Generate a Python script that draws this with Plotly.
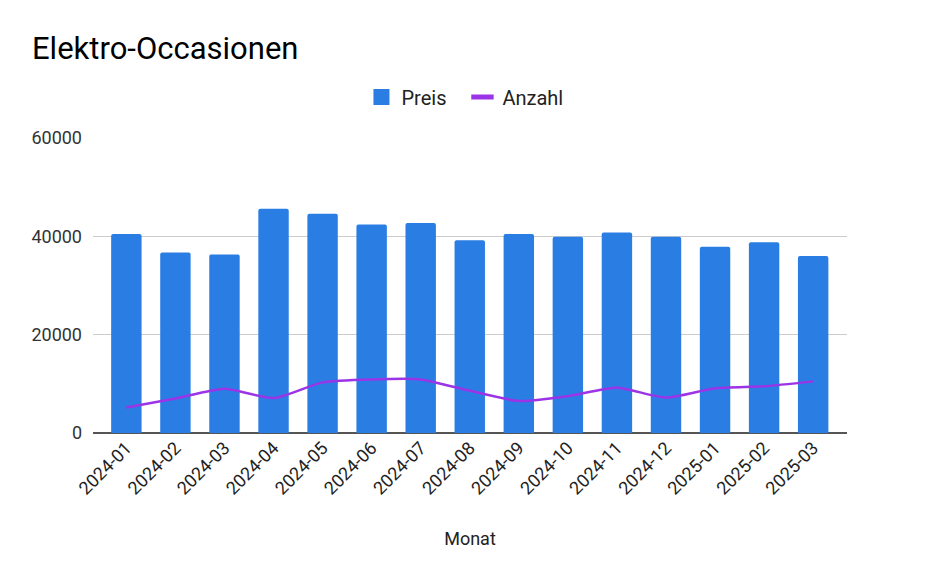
import plotly.graph_objects as go

monate = ["2024-01", "2024-02", "2024-03", "2024-04", "2024-05", "2024-06", "2024-07",
          "2024-08", "2024-09", "2024-10", "2024-11", "2024-12", "2025-01", "2025-02", "2025-03"]
preis = [40500, 36700, 36300, 45600, 44600, 42400, 42700, 39200, 40500, 39900, 40800, 39900, 37900, 38800, 36000]
anzahl = [5200, 7000, 9000, 7100, 10300, 10900, 10900, 8600, 6500, 7500, 9200, 7200, 9100, 9500, 10500]
y_ticks = [0, 20000, 40000, 60000]

BLUE = "#2a7de3"
PURPLE = "#9b34e6"

fig = go.Figure()
fig.add_trace(go.Bar(
    x=monate, y=preis, name="Preis", showlegend=False, legendgroup="p",
    marker=dict(color=BLUE, cornerradius=2, line=dict(width=0)),
))
fig.add_trace(go.Scatter(
    x=monate, y=anzahl, name="Anzahl", mode="lines", showlegend=False, legendgroup="a",
    line=dict(color=PURPLE, width=2.5, shape="spline", smoothing=0.6),
))
# legend entries (larger glyphs like the reference)
fig.add_trace(go.Scatter(
    x=[None], y=[None], name="Preis", mode="markers", legendgroup="p",
    marker=dict(symbol="square", size=17, color=BLUE),
))
fig.add_trace(go.Scatter(
    x=[None], y=[None], name="Anzahl", mode="markers", legendgroup="a",
    marker=dict(symbol="line-ew-open", size=18, color=PURPLE, line=dict(width=5, color=PURPLE)),
))

fig.update_layout(
    width=940, height=581,
    paper_bgcolor="white", plot_bgcolor="white",
    font=dict(family="Roboto, Arial, sans-serif", color="#222"),
    title=dict(text="Elektro-Occasionen", x=32/940, xanchor="left", xref="container",
               y=1-48/581, yanchor="middle", yref="container",
               font=dict(size=31, color="#000")),
    margin=dict(l=93, r=93, t=138, b=148),
    bargap=0.38,
    showlegend=True,
    legend=dict(orientation="h", x=0.49, xanchor="center", y=1.139, yanchor="middle",
                font=dict(size=20, color="#222"), itemwidth=30,
                entrywidth=56, entrywidthmode="pixels"),
    xaxis=dict(
        type="category", range=[-0.68, 14.69],
        tickangle=-45, tickfont=dict(size=18, color="#222"),
        showgrid=False, ticks="", showline=False,
        title=dict(text="Monat", font=dict(size=18, color="#222"), standoff=34),
    ),
    yaxis=dict(
        range=[0, 60000], tickvals=y_ticks, ticktext=[str(v) for v in y_ticks],
        tickfont=dict(size=18, color="#333"),
        showgrid=True, gridcolor="#cccccc", gridwidth=1,
        zeroline=True, zerolinecolor="#555", zerolinewidth=2,
        ticks="", showline=False, ticklabelstandoff=10,
    ),
)

fig.write_html("out.html")
